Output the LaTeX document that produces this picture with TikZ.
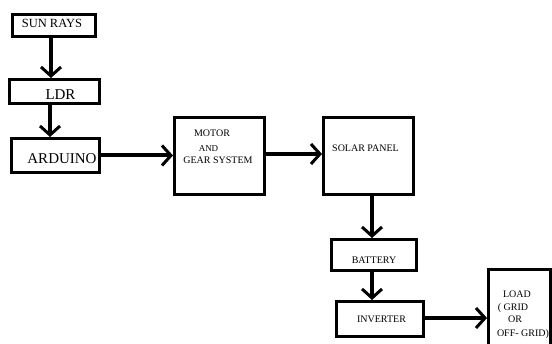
\documentclass[tikz,border=0pt]{standalone}
\usepackage{fontspec}
\setmainfont{Liberation Serif}
\usetikzlibrary{arrows.meta}
\begin{document}
\begin{tikzpicture}[x=1pt,y=-1pt,
  box/.style={draw, line width=3pt, inner sep=0pt},
  arr/.style={line width=4pt, -{Straight Barb[length=9pt,width=20pt,line width=3pt]}},
  lbl/.style={anchor=base, inner sep=0pt, font=\fontsize{10}{12}\selectfont},
]
\useasboundingbox (0,0) rectangle (552,344);
\clip (0,0) rectangle (552,344);
% boxes
\node[box, minimum width=83pt, minimum height=22pt] (sun) at (54,25.5) {};
\node[box, minimum width=90pt, minimum height=24pt] (ldr) at (54.5,91.5) {};
\node[box, minimum width=88pt, minimum height=34pt] (ard) at (55.5,155.5) {};
\node[box, minimum width=90pt, minimum height=77pt] (motor) at (219.5,156) {};
\node[box, minimum width=90pt, minimum height=77pt] (solar) at (368.5,156) {};
\node[box, minimum width=85pt, minimum height=31pt] (bat) at (374,255) {};
\node[box, minimum width=87pt, minimum height=35pt] (inv) at (380,319) {};
\node[box, minimum width=62pt, minimum height=109pt] (load) at (519.5,324) {};
% labels
\node[lbl, font=\fontsize{12.5}{14}\selectfont] (tsun) at (52,27.5) {SUN RAYS};
\node[lbl, font=\fontsize{15}{18}\selectfont] (tldr) at (60.5,100) {LDR};
\node[lbl, font=\fontsize{15}{18}\selectfont] (tard) at (62,164) {ARDUINO};
\node[lbl] (tmotor) at (212,137) {MOTOR};
\node[lbl, font=\fontsize{9}{11}\selectfont] (tand) at (208.5,152) {AND};
\node[lbl] (tgear) at (218,164) {GEAR SYSTEM};
\node[lbl] (tsolar) at (365.5,151.5) {SOLAR PANEL};
\node[lbl] (tbat) at (374,263.5) {BATTERY};
\node[lbl] (tinv) at (381.5,323) {INVERTER};
\node[lbl] (tload1) at (517,298) {LOAD};
\node[lbl] (tload2) at (513,311) {( GRID};
\node[lbl] (tload3) at (515,323) {OR};
\node[lbl] (tload4) at (523,336.5) {OFF- GRID)};
% connectors
\draw[arr] ([xshift=-3pt]sun.south) -- ([xshift=-3pt]sun.south |- ldr.north);
\draw[arr] ([xshift=-4.5pt]ldr.south) -- ([xshift=-4.5pt]ldr.south |- ard.north);
\draw[arr] (ard.east) -- (ard.east -| motor.west);
\draw[arr] ([yshift=2pt]motor.east) -- ([yshift=2pt]motor.east -| solar.west);
\draw[arr] ([xshift=3.5pt]solar.south) -- ([xshift=3.5pt]solar.south |- bat.north);
\draw[arr] ([xshift=-2pt]bat.south) -- ([xshift=-2pt]bat.south |- inv.north);
\draw[arr] ([yshift=1pt]inv.east) -- ([yshift=1pt]inv.east -| load.west);
\end{tikzpicture}
\end{document}
